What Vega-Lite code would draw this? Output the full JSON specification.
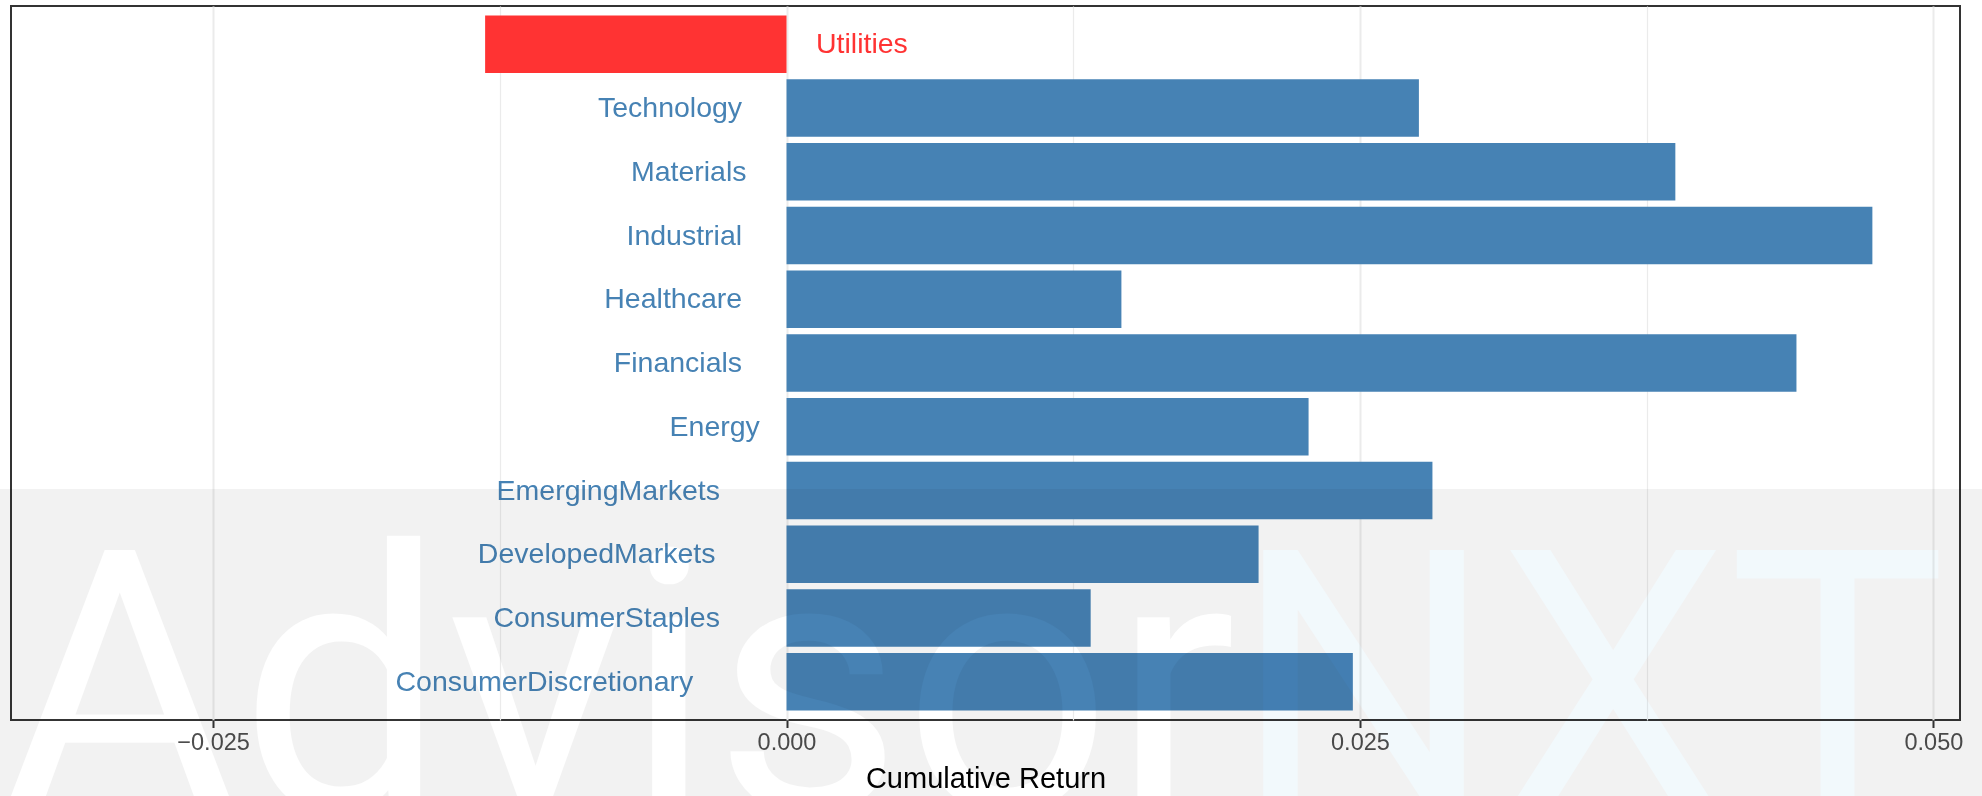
{
  "$schema": "https://vega.github.io/schema/vega-lite/v6.json",
  "width": 1949,
  "height": 714,
  "autosize": {"type": "none"},
  "padding": {"left": 11, "top": 6, "right": 22, "bottom": 76},
  "background": "white",
  "config": {
    "view": {"stroke": "#333333", "strokeWidth": 2},
    "font": "Liberation Sans"
  },
  "layer": [
    {
      "data": {
        "values": [
          {"sector": "Utilities", "ret": -0.01314},
          {"sector": "Technology", "ret": 0.02757},
          {"sector": "Materials", "ret": 0.03875},
          {"sector": "Industrial", "ret": 0.04734},
          {"sector": "Healthcare", "ret": 0.0146},
          {"sector": "Financials", "ret": 0.04403},
          {"sector": "Energy", "ret": 0.02276},
          {"sector": "EmergingMarkets", "ret": 0.02816},
          {"sector": "DevelopedMarkets", "ret": 0.02058},
          {"sector": "ConsumerStaples", "ret": 0.01326},
          {"sector": "ConsumerDiscretionary", "ret": 0.02469}
        ]
      },
      "encoding": {
        "y": {
          "field": "sector",
          "type": "nominal",
          "sort": ["Utilities", "Technology", "Materials", "Industrial", "Healthcare", "Financials", "Energy", "EmergingMarkets", "DevelopedMarkets", "ConsumerStaples", "ConsumerDiscretionary"],
          "scale": {"paddingInner": 0.1, "paddingOuter": 0.15},
          "axis": null
        }
      },
      "layer": [
        {
          "mark": {"type": "bar"},
          "encoding": {
            "x": {
              "field": "ret",
              "type": "quantitative",
              "scale": {"domain": [-0.03381, 0.05116], "nice": false, "zero": false},
              "axis": {
                "values": [-0.025, -0.0125, 0, 0.0125, 0.025, 0.0375, 0.05],
                "labelExpr": "round(datum.value*80) % 2 != 0 ? '' : format(datum.value, '.3f')",
                "grid": true,
                "gridColor": "#ebebeb",
                "gridWidth": {"condition": {"test": "round(datum.value*80) % 2 != 0", "value": 1.2}, "value": 2},
                "domain": false,
                "ticks": true,
                "tickColor": "#333333",
                "tickWidth": 2,
                "tickSize": 7.5,
                "tickOpacity": {"condition": {"test": "round(datum.value*80) % 2 != 0", "value": 0}, "value": 1},
                "labelFont": "Liberation Sans",
                "labelFontSize": 23.5,
                "labelColor": "#4d4d4d",
                "labelPadding": 3,
                "title": "Cumulative Return",
                "titleFont": "Liberation Sans",
                "titleFontSize": 29,
                "titleFontWeight": "normal",
                "titleColor": "#000000",
                "titlePadding": 10
              }
            },
            "color": {"condition": {"test": "datum.ret < 0", "value": "#ff3333"}, "value": "#4682b4"}
          }
        },
        {
          "transform": [{"filter": "datum.ret >= 0"}],
          "mark": {
            "type": "text",
            "align": "right",
            "baseline": "middle",
            "font": "Liberation Sans",
            "fontSize": 28.5,
            "color": "#4682b4",
            "dx": {"expr": "-0.3*14.8*length(datum.sector)"}
          },
          "encoding": {
            "x": {"datum": 0, "type": "quantitative", "scale": {"domain": [-0.03381, 0.05116], "nice": false, "zero": false}},
            "text": {"field": "sector"}
          }
        },
        {
          "transform": [{"filter": "datum.ret < 0"}],
          "mark": {
            "type": "text",
            "align": "left",
            "baseline": "middle",
            "font": "Liberation Sans",
            "fontSize": 28.5,
            "color": "#ff3333",
            "dx": 29.5
          },
          "encoding": {
            "x": {"datum": 0, "type": "quantitative", "scale": {"domain": [-0.03381, 0.05116], "nice": false, "zero": false}},
            "text": {"field": "sector"}
          }
        }
      ]
    },
    {
      "data": {"values": [{}]},
      "mark": {"type": "rect", "color": "#f2f2f2", "blend": "multiply"},
      "encoding": {
        "x": {"datum": -0.0346, "type": "quantitative", "scale": {"domain": [-0.03381, 0.05116], "nice": false, "zero": false}},
        "x2": {"datum": 0.0524},
        "y": {"datum": 0.3235, "type": "quantitative", "scale": {"domain": [0, 1], "nice": false, "zero": false}, "axis": null},
        "y2": {"datum": -0.115}
      }
    },
    {
      "data": {"values": [{}]},
      "mark": {"type": "text", "text": "Advisor", "align": "left", "baseline": "alphabetic", "font": "Roboto", "fontWeight": 400, "fontSize": 367, "color": "#0d0d0d", "blend": "color-dodge"},
      "encoding": {
        "x": {"datum": -0.03429, "type": "quantitative", "scale": {"domain": [-0.03381, 0.05116], "nice": false, "zero": false}},
        "y": {"datum": -0.1275, "type": "quantitative", "scale": {"domain": [0, 1], "nice": false, "zero": false}, "axis": null}
      }
    },
    {
      "data": {"values": [{}]},
      "mark": {"type": "text", "text": "NXT", "align": "left", "baseline": "alphabetic", "font": "Roboto", "fontWeight": 400, "fontSize": 367, "color": "#00070a", "blend": "color-dodge"},
      "encoding": {
        "x": {"datum": 0.01946, "type": "quantitative", "scale": {"domain": [-0.03381, 0.05116], "nice": false, "zero": false}},
        "y": {"datum": -0.1275, "type": "quantitative", "scale": {"domain": [0, 1], "nice": false, "zero": false}, "axis": null}
      }
    }
  ],
  "resolve": {"scale": {"y": "independent"}}
}
